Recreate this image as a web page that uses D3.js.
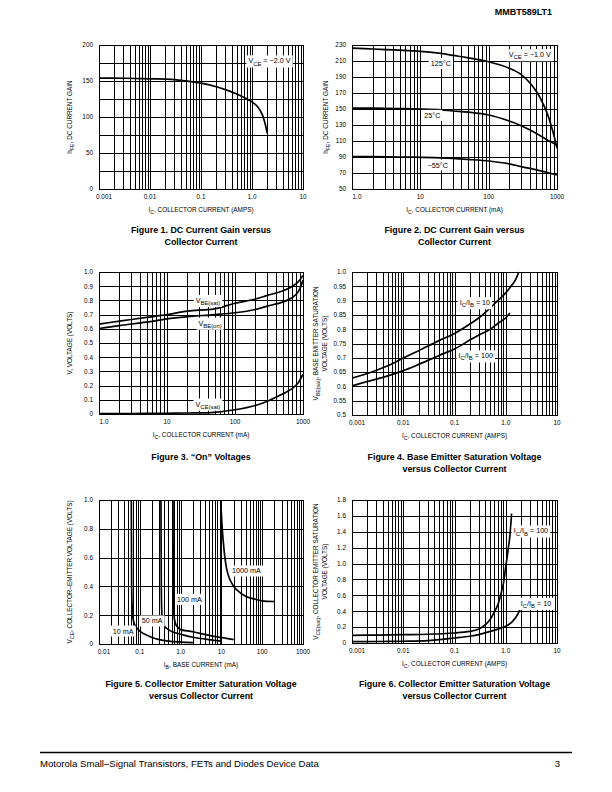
<!DOCTYPE html>
<html><head><meta charset="utf-8">
<script src="https://cdn.jsdelivr.net/npm/d3@7"></script>
<style>
body{margin:0;background:#fff}
svg{display:block}
text{font-family:"Liberation Sans",Arial,Helvetica,sans-serif;fill:#000}
</style>
</head><body>
<svg id="page" width="612" height="792"></svg>
<script>
// ---------------- DATA ----------------
// Figure 1: DC current gain vs collector current (A), VCE = -2.0 V
const fig1Ic  = [0.001,0.002,0.005,0.01,0.03,0.1,0.2,0.3,0.5,0.8,1.0,1.3,1.6,1.8,2.0];
const fig1Hfe = [154,154,153.5,153,152,147,142,138,132,125,121,114,103,91,77];
const fig1XTicks = [0.001,0.01,0.1,1,10];
const fig1XLabels = ["0.001","0.01","0.1","1.0","10"];
const fig1YTicks = [0,50,100,150,200];

// Figure 2: DC current gain vs collector current (mA), VCE = -1.0 V
const fig2Ic = [1,2,5,10,20,30,50,100,200,300,500,700,850,1000];
const fig2Hfe125 = [226,225,223.5,222,219.5,217,214,209,201,193,172,147,125,101];
const fig2Hfe25  = [151,151,150.5,150,149,147.5,146,142.5,135,129,119.5,112,108,105];
const fig2HfeM55 = [90.5,90.5,90,89.6,89,88.3,87,85,81.5,78,74,71,69,67.5];
const fig2XTicks = [1,10,100,1000];
const fig2XLabels = ["1.0","10","100","1000"];
const fig2YTicks = [50,70,90,110,130,150,170,190,210,230];

// Figure 3: "On" voltages vs collector current (mA)
const fig3Ic = [1,2,5,10,20,50,100,200,300,500,700,850,1000];
const fig3VbeSat = [0.633,0.654,0.68,0.70,0.725,0.74,0.78,0.81,0.835,0.866,0.90,0.93,0.976];
const fig3VbeOn  = [0.602,0.623,0.647,0.67,0.685,0.70,0.713,0.736,0.76,0.788,0.82,0.86,0.943];
const fig3VceSat = [0.003,0.003,0.004,0.005,0.007,0.012,0.03,0.06,0.09,0.14,0.18,0.22,0.28];
const fig3XTicks = [1,10,100,1000];
const fig3XLabels = ["1.0","10","100","1000"];
const fig3YTicks = [0,0.1,0.2,0.3,0.4,0.5,0.6,0.7,0.8,0.9,1.0];
const fig3YLabels = ["0","0.1","0.2","0.3","0.4","0.5","0.6","0.7","0.8","0.9","1.0"];

// Figure 4: VBE(sat) vs collector current (A)
const fig4IcA = [0.001,0.002,0.005,0.01,0.02,0.05,0.1,0.2,0.3,0.5,0.7,1.0,1.2,1.5,1.8];
const fig4V10 = [0.629,0.645,0.672,0.699,0.725,0.76,0.785,0.818,0.84,0.875,0.9,0.927,0.945,0.968,1.0];
const fig4IcB = [0.001,0.002,0.005,0.01,0.02,0.05,0.1,0.2,0.3,0.5,0.7,1.0,1.2];
const fig4V100 = [0.602,0.617,0.637,0.655,0.677,0.708,0.731,0.762,0.78,0.80,0.82,0.84,0.857];
const fig4XTicks = [0.001,0.01,0.1,1,10];
const fig4XLabels = ["0.001","0.01","0.1","1.0","10"];
const fig4YTicks = [0.5,0.55,0.6,0.65,0.7,0.75,0.8,0.85,0.9,0.95,1.0];
const fig4YLabels = ["0.5","0.55","0.6","0.65","0.7","0.75","0.8","0.85","0.9","0.95","1.0"];

// Figure 5: VCE vs base current (mA) for several IC
const fig5Ib10 = [0.062,0.0625,0.063,0.064,0.066,0.07,0.08,0.1,0.15,0.2,0.3,0.5,1.0,2.0];
const fig5V10  = [1.0,0.7,0.45,0.3,0.22,0.16,0.12,0.09,0.06,0.045,0.03,0.02,0.013,0.01];
const fig5Ib50 = [0.33,0.333,0.336,0.34,0.35,0.37,0.4,0.5,0.7,1.0,2.0,5.0,10];
const fig5V50  = [1.0,0.7,0.45,0.3,0.2,0.15,0.125,0.1,0.08,0.068,0.047,0.03,0.02];
const fig5Ib100 = [0.65,0.655,0.66,0.67,0.69,0.72,0.78,0.9,1.0,2.0,5.0,10,20];
const fig5V100  = [1.0,0.7,0.45,0.3,0.2,0.16,0.13,0.11,0.1,0.085,0.06,0.045,0.03];
const fig5Ib1000 = [9.7,10,10.5,11.2,12.2,13.5,15.5,19,25,40,70,100,200];
const fig5V1000  = [1.0,0.9,0.8,0.7,0.6,0.52,0.46,0.41,0.37,0.33,0.31,0.30,0.295];
const fig5XTicks = [0.01,0.1,1,10,100,1000];
const fig5XLabels = ["0.01","0.1","1.0","10","100","1000"];
const fig5YTicks = [0,0.2,0.4,0.6,0.8,1.0];
const fig5YLabels = ["0","0.2","0.4","0.6","0.8","1.0"];

// Figure 6: VCE(sat) vs collector current (A)
const fig6IcA = [0.001,0.003,0.01,0.03,0.1,0.2,0.3,0.4,0.5,0.6,0.7,0.8,0.9,1.0,1.1,1.2,1.3];
const fig6V100 = [0.096,0.1,0.105,0.11,0.126,0.146,0.176,0.23,0.30,0.39,0.48,0.61,0.75,0.96,1.15,1.34,1.63];
const fig6IcB = [0.001,0.003,0.01,0.03,0.1,0.2,0.3,0.5,0.7,1.0,1.3,1.6,1.9];
const fig6V10 = [0.018,0.019,0.022,0.03,0.063,0.085,0.105,0.146,0.175,0.21,0.26,0.33,0.42];
const fig6XTicks = [0.001,0.01,0.1,1,10];
const fig6XLabels = ["0.001","0.01","0.1","1.0","10"];
const fig6YTicks = [0,0.2,0.4,0.6,0.8,1.0,1.2,1.4,1.6,1.8];
const fig6YLabels = ["0","0.2","0.4","0.6","0.8","1.0","1.2","1.4","1.6","1.8"];

// ---------------- DRAWING ----------------
const svg = d3.select("#page");
const FS = 6.4;   // tick / axis-title size
const LFS = 7.2;  // curve label size

function rich(sel, parts, size) {
  let shift = 0;
  parts.forEach(p => {
    const t = sel.append("tspan").text(p[0]);
    if (p[1]) {
      t.attr("font-size", size * 0.82);
      if (shift === 0) { t.attr("dy", size * 0.3); shift = size * 0.3; }
    } else if (shift !== 0) { t.attr("dy", -shift); shift = 0; }
  });
}

function chart(c) {
  const g = svg.append("g");
  const x = d3.scaleLog().domain(c.xDomain).range([c.x0, c.x1]);
  const y = d3.scaleLinear().domain(c.yDomain).range([c.y1, c.y0]);
  const px = v => Math.round(x(v)) + 0.5;
  const py = v => Math.round(y(v)) + 0.5;

  // vertical log grid
  const vGrid = [];
  const d0 = Math.round(Math.log10(c.xDomain[0])), d1 = Math.round(Math.log10(c.xDomain[1]));
  for (let d = d0; d < d1; d++) for (let k = 1; k <= 9; k++) vGrid.push(k * Math.pow(10, d));
  vGrid.push(c.xDomain[1]);
  g.append("g").selectAll("line").data(vGrid).join("line")
    .attr("x1", px).attr("x2", px).attr("y1", c.y0).attr("y2", c.y1)
    .attr("stroke", "#000").attr("stroke-width", 1).attr("shape-rendering", "crispEdges");
  // horizontal grid
  g.append("g").selectAll("line").data(c.hGrid).join("line")
    .attr("x1", c.x0).attr("x2", c.x1 + 1).attr("y1", py).attr("y2", py)
    .attr("stroke", "#000").attr("stroke-width", 1).attr("shape-rendering", "crispEdges");

  // x tick labels
  g.append("g").selectAll("text").data(c.xTicks).join("text")
    .attr("x", (v, i) => x(v) + (i === 0 ? 5 : 0))
    .attr("y", c.y1 + 10)
    .attr("text-anchor", "middle")
    .attr("font-size", FS)
    .text((v, i) => c.xLabels[i]);
  // y tick labels
  g.append("g").selectAll("text").data(c.yTicks).join("text")
    .attr("x", c.x0 - 6).attr("y", v => y(v) + 2.3)
    .attr("text-anchor", "end").attr("font-size", FS)
    .text((v, i) => c.yLabels[i]);

  // axis titles
  const xt = g.append("text").attr("x", (c.x0 + c.x1) / 2).attr("y", c.y1 + 23)
    .attr("text-anchor", "middle").attr("font-size", FS);
  rich(xt, c.xTitle, FS);
  c.yTitle.forEach((line, i) => {
    const yc = (c.y0 + c.y1) / 2;
    const xx = c.yTitleX + i * 8.5;
    const t = g.append("text").attr("transform", `translate(${xx},${yc}) rotate(-90)`)
      .attr("text-anchor", "middle").attr("font-size", FS);
    rich(t, line, FS);
  });

  // series
  const line = d3.line().x(d => x(d[0])).y(d => y(d[1])).curve(d3.curveCatmullRom.alpha(0.5));
  c.series.forEach(s => {
    const pts = s.x.map((v, i) => [v, s.y[i]]);
    g.append("path").attr("d", line(pts)).attr("fill", "none")
      .attr("stroke", "#000").attr("stroke-width", 1.7).attr("stroke-linejoin", "round");
  });

  // labels with white boxes
  c.labels.forEach(L => {
    const t = g.append("text").attr("x", x(L.at[0])).attr("y", y(L.at[1]) + 2.5)
      .attr("text-anchor", "middle").attr("font-size", LFS);
    rich(t, L.parts, LFS);
    const b = t.node().getBBox();
    g.insert("rect", function() { return t.node(); })
      .attr("x", b.x - 2).attr("y", b.y - 1).attr("width", b.width + 4).attr("height", b.height + 2)
      .attr("fill", "#fff");
  });

  // frame
  g.append("rect").attr("x", c.x0 + 0.5).attr("y", c.y0 + 0.5)
    .attr("width", Math.round(c.x1 - c.x0)).attr("height", Math.round(c.y1 - c.y0))
    .attr("fill", "none").attr("stroke", "#000").attr("stroke-width", 1).attr("shape-rendering", "crispEdges");

  // caption
  c.caption.forEach((s, i) => {
    g.append("text").attr("x", (c.x0 + c.x1) / 2).attr("y", c.capY + i * 11.5)
      .attr("text-anchor", "middle").attr("font-size", 8.9).attr("font-weight", "bold").text(s);
  });
}

const L = 99, R = 303, L2 = 352, R2 = 557;

chart({x0:L, x1:R, y0:45, y1:189, xDomain:[0.001,10], yDomain:[0,200],
  hGrid:d3.range(0,201,25), xTicks:fig1XTicks, xLabels:fig1XLabels,
  yTicks:fig1YTicks, yLabels:fig1YTicks.map(String),
  xTitle:[["I",0],["C",1],[", COLLECTOR CURRENT (AMPS)",0]],
  yTitle:[[["h",0],["FE",1],[", DC CURRENT GAIN",0]]], yTitleX:72,
  series:[{x:fig1Ic, y:fig1Hfe}],
  labels:[{at:[2.2,178], parts:[["V",0],["CE",1],[" = \u22122.0 V",0]]}],
  capY:233, caption:["Figure 1. DC Current Gain versus","Collector Current"]});

chart({x0:L2, x1:R2, y0:45, y1:189, xDomain:[1,1000], yDomain:[50,230],
  hGrid:d3.range(50,231,20), xTicks:fig2XTicks, xLabels:fig2XLabels,
  yTicks:fig2YTicks, yLabels:fig2YTicks.map(String),
  xTitle:[["I",0],["C",1],[", COLLECTOR CURRENT (mA)",0]],
  yTitle:[[["h",0],["FE",1],[", DC CURRENT GAIN",0]]], yTitleX:328,
  series:[{x:fig2Ic, y:fig2Hfe125},{x:fig2Ic, y:fig2Hfe25},{x:fig2Ic, y:fig2HfeM55}],
  labels:[{at:[400,218], parts:[["V",0],["CE",1],[" = \u22121.0 V",0]]},
          {at:[20,207], parts:[["125\u00B0C",0]]},
          {at:[15,142], parts:[["25\u00B0C",0]]},
          {at:[18,80], parts:[["\u221255\u00B0C",0]]}],
  capY:233, caption:["Figure 2. DC Current Gain versus","Collector Current"]});

chart({x0:L, x1:R, y0:272, y1:414, xDomain:[1,1000], yDomain:[0,1.0],
  hGrid:fig3YTicks, xTicks:fig3XTicks, xLabels:fig3XLabels,
  yTicks:fig3YTicks, yLabels:fig3YLabels,
  xTitle:[["I",0],["C",1],[", COLLECTOR CURRENT (mA)",0]],
  yTitle:[[["V, VOLTAGE (VOLTS)",0]]], yTitleX:72,
  series:[{x:fig3Ic, y:fig3VbeSat},{x:fig3Ic, y:fig3VbeOn},{x:fig3Ic, y:fig3VceSat}],
  labels:[{at:[40,0.80], parts:[["V",0],["BE(sat)",1]]},
          {at:[43,0.64], parts:[["V",0],["BE(on)",1]]},
          {at:[40,0.07], parts:[["V",0],["CE(sat)",1]]}],
  capY:460, caption:["Figure 3. \u201COn\u201D Voltages"]});

chart({x0:L2, x1:R2, y0:272, y1:415, xDomain:[0.001,10], yDomain:[0.5,1.0],
  hGrid:fig4YTicks, xTicks:fig4XTicks, xLabels:fig4XLabels,
  yTicks:fig4YTicks, yLabels:fig4YLabels,
  xTitle:[["I",0],["C",1],[", COLLECTOR CURRENT (AMPS)",0]],
  yTitle:[[["V",0],["BE(sat)",1],[", BASE EMITTER SATURATION",0]],[["VOLTAGE (VOLTS)",0]]], yTitleX:318,
  series:[{x:fig4IcA, y:fig4V10},{x:fig4IcB, y:fig4V100}],
  labels:[{at:[0.25,0.893], parts:[["I",0],["C",1],["/I",0],["B",1],[" = 10",0]]},
          {at:[0.26,0.707], parts:[["I",0],["C",1],["/I",0],["B",1],[" = 100",0]]}],
  capY:460, caption:["Figure 4. Base Emitter Saturation Voltage","versus Collector Current"]});

chart({x0:L, x1:R, y0:500, y1:644, xDomain:[0.01,1000], yDomain:[0,1.0],
  hGrid:fig5YTicks, xTicks:fig5XTicks, xLabels:fig5XLabels,
  yTicks:fig5YTicks, yLabels:fig5YLabels,
  xTitle:[["I",0],["B",1],[", BASE CURRENT (mA)",0]],
  yTitle:[[["V",0],["CE",1],[", COLLECTOR\u2013EMITTER VOLTAGE (VOLTS)",0]]], yTitleX:72,
  series:[{x:fig5Ib10, y:fig5V10},{x:fig5Ib50, y:fig5V50},{x:fig5Ib100, y:fig5V100},{x:fig5Ib1000, y:fig5V1000}],
  labels:[{at:[0.039,0.09], parts:[["10 mA",0]]},
          {at:[0.2,0.16], parts:[["50 mA",0]]},
          {at:[1.65,0.31], parts:[["100 mA",0]]},
          {at:[41,0.507], parts:[["1000 mA",0]]}],
  capY:687, caption:["Figure 5. Collector Emitter Saturation Voltage","versus Collector Current"]});

chart({x0:L2, x1:R2, y0:500, y1:643, xDomain:[0.001,10], yDomain:[0,1.8],
  hGrid:fig6YTicks, xTicks:fig6XTicks, xLabels:fig6XLabels,
  yTicks:fig6YTicks, yLabels:fig6YLabels,
  xTitle:[["I",0],["C",1],[", COLLECTOR CURRENT (AMPS)",0]],
  yTitle:[[["V",0],["CE(sat)",1],[", COLLECTOR EMITTER SATURATION",0]],[["VOLTAGE (VOLTS)",0]]], yTitleX:318,
  series:[{x:fig6IcA, y:fig6V100},{x:fig6IcB, y:fig6V10}],
  labels:[{at:[3.1,1.41], parts:[["I",0],["C",1],["/I",0],["B",1],[" = 100",0]]},
          {at:[3.9,0.5], parts:[["I",0],["C",1],["/I",0],["B",1],[" = 10",0]]}],
  capY:687, caption:["Figure 6. Collector Emitter Saturation Voltage","versus Collector Current"]});

// header and footer
svg.append("text").attr("x", 552).attr("y", 15).attr("text-anchor", "end")
  .attr("font-size", 9).attr("font-weight", "bold").text("MMBT589LT1");
svg.append("line").attr("x1", 40).attr("x2", 572).attr("y1", 752.5).attr("y2", 752.5)
  .attr("stroke", "#000").attr("stroke-width", 1.5);
svg.append("text").attr("x", 40).attr("y", 767).attr("font-size", 9.6)
  .text("Motorola Small\u2013Signal Transistors, FETs and Diodes Device Data");
svg.append("text").attr("x", 560).attr("y", 767).attr("text-anchor", "end").attr("font-size", 9.6).text("3");
</script>
</body></html>
